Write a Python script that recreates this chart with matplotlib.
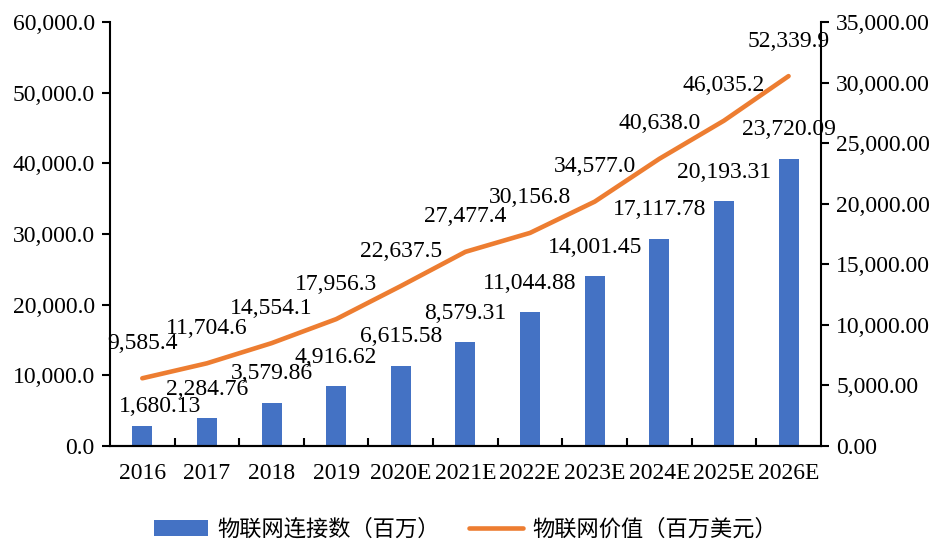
import matplotlib
matplotlib.use("Agg")
import matplotlib.pyplot as plt
import numpy as np
from matplotlib.ticker import FuncFormatter, FixedLocator

plt.rcParams["font.family"] = ["Liberation Serif", "Noto Sans CJK SC"]

years = ["2016", "2017", "2018", "2019", "2020E", "2021E", "2022E",
         "2023E", "2024E", "2025E", "2026E"]
connections = [1680.13, 2284.76, 3579.86, 4916.62, 6615.58, 8579.31,
               11044.88, 14001.45, 17117.78, 20193.31, 23720.09]
value = [9585.4, 11704.6, 14554.1, 17956.3, 22637.5, 27477.4,
         30156.8, 34577.0, 40638.0, 46035.2, 52339.9]
bar_name = "物联网连接数（百万）"
line_name = "物联网价值（百万美元）"

BLUE = "#4472C4"
ORANGE = "#ED7D31"
FS = 17

fig = plt.figure(figsize=(9.36, 5.43), dpi=100)
ax = fig.add_axes([0.1175, 0.1786, 0.7595, 0.7809])
ax2 = ax.twinx()
ax.set_zorder(ax2.get_zorder() + 1)
ax.patch.set_visible(False)

x = np.arange(len(years))

# bars on the right axis
bars = ax2.bar(x, connections, width=0.31, color=BLUE, label=bar_name)
ax2.set_ylim(0, 35000)
ax2.set_yticks(np.arange(0, 35001, 5000))
ax2.yaxis.set_major_formatter(FuncFormatter(lambda v, p: f"{v:,.2f}"))

# line on the left axis
line, = ax.plot(x, value, color=ORANGE, lw=3.3, solid_capstyle="round",
                solid_joinstyle="round", label=line_name)
ax.set_ylim(0, 60000)
ax.set_yticks(np.arange(0, 60001, 10000))
ax.yaxis.set_major_formatter(FuncFormatter(lambda v, p: f"{v:,.1f}"))
ax.set_xlim(-0.5, len(years) - 0.5)
ax.set_xticks(x)
ax.set_xticklabels(years)
ax.xaxis.set_minor_locator(FixedLocator(np.arange(0.5, len(years) - 1, 1.0)))

# data labels
for xi, v in zip(x, value):
    ax.annotate(f"{v:,.1f}", (xi, v), xytext=(0, 35), textcoords="offset pixels",
                ha="center", va="center", fontsize=FS)
bar_offsets = [(18, 19)] + [(0, 29)] * (len(years) - 1)
for xi, v, (dx, dy) in zip(x, connections, bar_offsets):
    ax2.annotate(f"{v:,.2f}", (xi, v), xytext=(dx, dy), textcoords="offset pixels",
                 ha="center", va="center", fontsize=FS)

for a in (ax, ax2):
    a.spines["top"].set_visible(False)
    for s in ("left", "right", "bottom"):
        a.spines[s].set_linewidth(1.5)
ax.spines["right"].set_visible(False)
ax2.spines["left"].set_visible(False)

ax.tick_params(axis="y", labelsize=FS, length=6, width=1.5, pad=5)
ax2.tick_params(axis="y", labelsize=FS, length=6, width=1.5, pad=5)
ax.tick_params(axis="x", which="major", labelsize=FS, length=0, pad=12)
ax.tick_params(axis="x", which="minor", direction="in", length=6, width=1.5)

fig.legend(handles=[bars, line], labels=[bar_name, line_name], loc="center",
           bbox_to_anchor=(0.497, 0.024), ncol=2, frameon=False, fontsize=16,
           handlelength=2.45, handletextpad=0.4, columnspacing=1.3)

fig.savefig("out.png", dpi=100)
plt.close(fig)
